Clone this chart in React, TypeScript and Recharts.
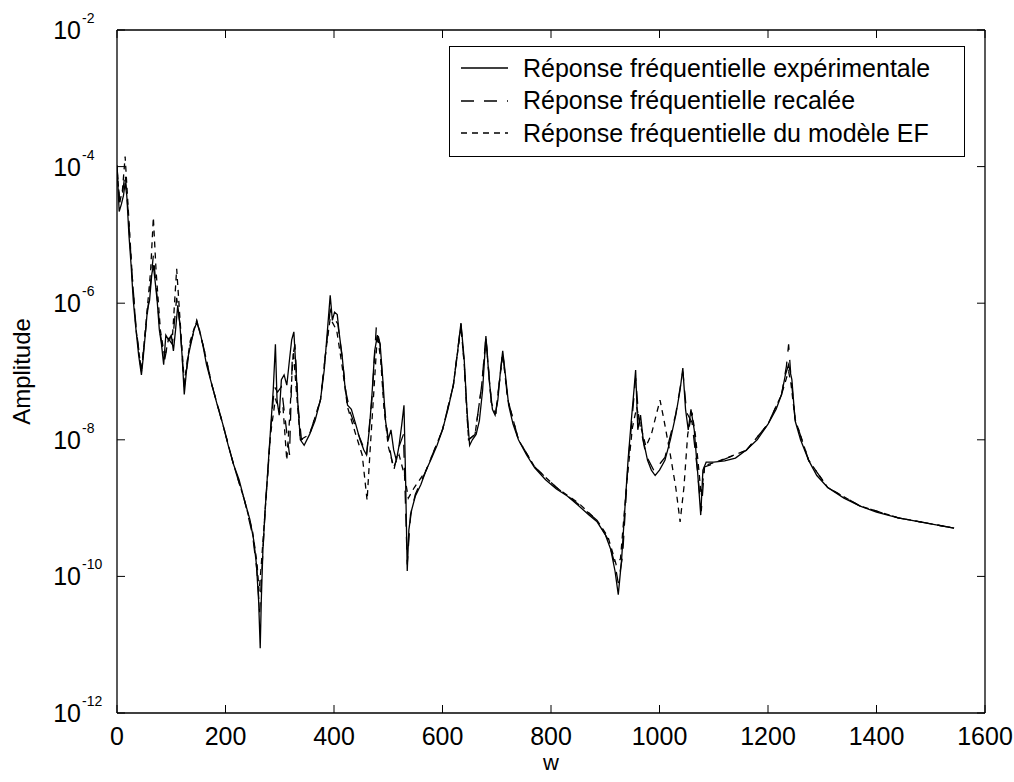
import React from 'react'
import { LineChart, Line, XAxis, YAxis, Legend, ReferenceLine } from 'recharts'

const wExp = [0, 4, 8, 12, 15, 18, 22, 26, 30, 35, 40, 45, 48, 52, 56, 60, 64, 67, 70, 74, 78, 82, 86, 90, 95, 100, 104, 108, 112, 116, 120, 124, 130, 136, 142, 147, 152, 158, 165, 175, 185, 195, 205, 215, 225, 235, 245, 252, 257, 261, 264, 266, 269, 273, 278, 283, 288, 292, 295, 299, 303, 308, 313, 318, 322, 326, 330, 334, 338, 345, 355, 365, 375, 382, 388, 393, 397, 401, 406, 410, 415, 420, 425, 432, 440, 448, 455, 460, 465, 470, 475, 480, 485, 490, 495, 500, 505, 510, 515, 520, 525, 529, 532, 535, 538, 543, 550, 560, 570, 580, 590, 600, 610, 620, 628, 634, 640, 645, 650, 655, 662, 668, 674, 680, 686, 692, 697, 702, 707, 711, 716, 722, 730, 740, 755, 770, 790, 810, 830, 850, 870, 885, 900, 910, 918, 924, 930, 936, 942, 948, 953, 956, 960, 965, 970, 978, 985, 992, 1000, 1010, 1020, 1030, 1038, 1043, 1048, 1053, 1058, 1064, 1070, 1076, 1080, 1086, 1100, 1120, 1140, 1160, 1180, 1200, 1215, 1225, 1232, 1238, 1244, 1250, 1260, 1275, 1290, 1310, 1340, 1370, 1400, 1440, 1480, 1520, 1543]
const ampExp = [1.05e-4, 2.2e-5, 2.8e-5, 3.8e-5, 5.8e-5, 3.8e-5, 1.0e-5, 3.6e-6, 1.1e-6, 4.1e-7, 1.7e-7, 8.9e-8, 1.5e-7, 3.4e-7, 7.9e-7, 1.1e-6, 2.6e-6, 3.6e-6, 2.2e-6, 1.1e-6, 4.1e-7, 2.5e-7, 1.26e-7, 3.4e-7, 2.9e-7, 3.4e-7, 2.0e-7, 4.1e-7, 9.3e-7, 4.8e-7, 1.7e-7, 4.6e-8, 1.5e-7, 2.5e-7, 4.1e-7, 5.2e-7, 4.1e-7, 2.5e-7, 1.26e-7, 6.3e-8, 3.2e-8, 1.7e-8, 8.3e-9, 4.3e-9, 2.6e-9, 1.3e-9, 6.8e-10, 3.4e-10, 1.5e-10, 4.5e-11, 8.9e-12, 4.5e-11, 2.5e-10, 9.3e-10, 3.6e-9, 1.4e-8, 5.4e-8, 2.5e-7, 3.8e-8, 2.3e-8, 7.6e-8, 8.9e-8, 6.3e-8, 1.5e-7, 2.9e-7, 3.8e-7, 1.05e-7, 2.8e-8, 1.0e-8, 8.3e-9, 1.2e-8, 1.9e-8, 3.8e-8, 1.05e-7, 4.1e-7, 1.3e-6, 5.6e-7, 7.4e-7, 6.8e-7, 3.4e-7, 1.7e-7, 6.3e-8, 3.2e-8, 2.8e-8, 1.7e-8, 1.0e-8, 7.1e-9, 6.0e-9, 1.4e-8, 4.6e-8, 2.0e-7, 3.4e-7, 2.5e-7, 7.6e-8, 1.9e-8, 1.0e-8, 1.4e-8, 7.1e-9, 5.0e-9, 8.3e-9, 1.7e-8, 3.2e-8, 2.6e-9, 1.2e-10, 4.8e-10, 9.3e-10, 1.5e-9, 2.2e-9, 3.6e-9, 5.4e-9, 8.3e-9, 1.4e-8, 2.8e-8, 6.3e-8, 2.0e-7, 5.1e-7, 1.5e-7, 2.8e-8, 8.3e-9, 1.0e-8, 1.2e-8, 1.9e-8, 5.4e-8, 3.3e-7, 7.6e-8, 2.8e-8, 2.3e-8, 3.8e-8, 1.05e-7, 2.0e-7, 8.9e-8, 3.2e-8, 1.7e-8, 1.0e-8, 6.0e-9, 3.9e-9, 2.6e-9, 1.9e-9, 1.5e-9, 1.1e-9, 7.9e-10, 6.3e-10, 4.1e-10, 2.5e-10, 1.2e-10, 5.4e-11, 1.7e-10, 9.3e-10, 5.0e-9, 1.9e-8, 5.4e-8, 1.05e-7, 1.4e-8, 2.3e-8, 1.0e-8, 5.0e-9, 3.6e-9, 3.0e-9, 3.6e-9, 5.0e-9, 1.0e-8, 2.3e-8, 5.4e-8, 1.12e-7, 2.8e-8, 1.4e-8, 2.8e-8, 1.4e-8, 3.6e-9, 7.9e-10, 3.6e-9, 4.7e-9, 4.7e-9, 4.9e-9, 5.4e-9, 7.1e-9, 1.0e-8, 1.7e-8, 2.8e-8, 4.6e-8, 8.9e-8, 1.26e-7, 7.6e-8, 1.9e-8, 1.0e-8, 5.0e-9, 3.0e-9, 2.0e-9, 1.4e-9, 1.07e-9, 8.7e-10, 7.2e-10, 6.3e-10, 5.5e-10, 5.1e-10]

// updated model response
const wRec = [0, 5, 10, 15, 20, 28, 35, 45, 55, 62, 67, 72, 80, 88, 95, 102, 110, 116, 124, 135, 147, 160, 175, 195, 215, 235, 250, 258, 263, 267, 273, 283, 290, 296, 303, 310, 318, 323, 328, 334, 340, 355, 375, 385, 393, 400, 407, 415, 422, 430, 445, 460, 470, 478, 485, 492, 500, 510, 520, 528, 535, 541, 550, 570, 600, 620, 634, 640, 648, 660, 672, 680, 690, 698, 711, 720, 740, 770, 810, 850, 885, 905, 918, 924, 932, 942, 956, 962, 975, 990, 1010, 1030, 1043, 1050, 1060, 1070, 1077, 1083, 1100, 1160, 1200, 1225, 1234, 1238, 1242, 1250, 1275, 1310, 1370, 1440, 1543]
const ampRec = [1.0e-4, 3.0e-5, 4.0e-5, 8.0e-5, 2.5e-5, 2.5e-6, 4.5e-7, 1.0e-7, 6.0e-7, 2.0e-6, 5.0e-6, 1.8e-6, 3.5e-7, 1.5e-7, 3.0e-7, 2.5e-7, 1.2e-6, 5.0e-7, 6.0e-8, 2.5e-7, 5.5e-7, 2.2e-7, 6.3e-8, 1.7e-8, 4.3e-9, 1.3e-9, 4.0e-10, 1.2e-10, 3.0e-11, 1.2e-10, 9.0e-10, 1.3e-8, 6.0e-8, 5.0e-8, 6.0e-8, 2.0e-8, 6.0e-9, 1.5e-7, 2.5e-7, 3.0e-8, 1.0e-8, 1.2e-8, 3.8e-8, 2.0e-7, 8.0e-7, 6.0e-7, 5.0e-7, 1.6e-7, 5.0e-8, 2.5e-8, 1.2e-8, 6.0e-9, 4.0e-8, 4.5e-7, 2.5e-7, 3.5e-8, 1.0e-8, 3.5e-9, 8.0e-9, 1.2e-8, 1.5e-10, 8.0e-10, 1.6e-9, 3.6e-9, 1.4e-8, 6.3e-8, 5.0e-7, 1.3e-7, 1.0e-8, 1.2e-8, 6.0e-8, 3.2e-7, 3.5e-8, 2.4e-8, 1.9e-7, 4.0e-8, 1.0e-8, 4.0e-9, 2.0e-9, 1.15e-9, 6.6e-10, 3.5e-10, 1.5e-10, 8.0e-11, 2.0e-10, 4.5e-9, 8.0e-8, 2.0e-8, 6.0e-9, 3.5e-9, 5.5e-9, 2.4e-8, 1.0e-7, 2.5e-8, 1.8e-8, 3.5e-9, 9.0e-10, 4.0e-9, 4.5e-9, 7.0e-9, 1.7e-8, 4.6e-8, 1.2e-7, 2.5e-7, 9.0e-8, 2.0e-8, 5.0e-9, 2.0e-9, 1.07e-9, 7.2e-10, 5.1e-10]

// finite element model response
const wEF = [0, 5, 10, 15, 20, 28, 35, 45, 55, 62, 67, 72, 80, 88, 95, 102, 110, 116, 124, 135, 147, 160, 175, 195, 215, 235, 250, 258, 262, 266, 273, 283, 292, 300, 306, 313, 318, 325, 330, 338, 355, 375, 385, 393, 405, 415, 425, 440, 452, 461, 467, 474, 480, 486, 492, 500, 510, 520, 530, 537, 548, 570, 600, 620, 634, 640, 648, 660, 672, 680, 690, 698, 711, 720, 740, 770, 810, 850, 885, 905, 920, 928, 940, 950, 958, 966, 975, 985, 995, 1001, 1008, 1020, 1030, 1038, 1045, 1052, 1060, 1066, 1072, 1077, 1083, 1100, 1160, 1200, 1225, 1234, 1238, 1242, 1250, 1275, 1310, 1370, 1440, 1543]
const ampEF = [9.0e-5, 3.0e-5, 4.5e-5, 1.4e-4, 3.0e-5, 2.5e-6, 4.2e-7, 1.0e-7, 7.0e-7, 3.0e-6, 1.8e-5, 3.0e-6, 4.0e-7, 1.6e-7, 3.0e-7, 3.0e-7, 3.2e-6, 6.0e-7, 7.0e-8, 2.8e-7, 5.6e-7, 2.2e-7, 6.3e-8, 1.7e-8, 4.3e-9, 1.3e-9, 4.5e-10, 1.6e-10, 6.0e-11, 1.5e-10, 9.0e-10, 1.2e-8, 4.0e-8, 2.5e-8, 3.0e-8, 5.0e-9, 2.0e-8, 2.0e-7, 6.0e-8, 1.0e-8, 1.2e-8, 3.8e-8, 2.0e-7, 6.0e-7, 4.0e-7, 1.2e-7, 3.0e-8, 1.2e-8, 6.0e-9, 1.3e-9, 8.0e-9, 6.0e-8, 3.5e-7, 1.5e-7, 3.0e-8, 8.0e-9, 4.0e-9, 6.0e-9, 3.0e-9, 1.4e-9, 2.0e-9, 3.6e-9, 1.4e-8, 6.3e-8, 4.5e-7, 1.3e-7, 1.0e-8, 1.2e-8, 6.0e-8, 3.0e-7, 3.5e-8, 2.4e-8, 1.8e-7, 4.0e-8, 1.0e-8, 4.0e-9, 2.0e-9, 1.2e-9, 6.6e-10, 3.8e-10, 1.5e-10, 1.8e-10, 2.5e-9, 1.5e-8, 3.0e-8, 1.5e-8, 8.0e-9, 1.2e-8, 2.5e-8, 3.8e-8, 2.0e-8, 6.0e-9, 2.0e-9, 6.3e-10, 2.0e-9, 1.2e-8, 2.5e-8, 1.2e-8, 4.0e-9, 1.5e-9, 4.2e-9, 4.6e-9, 7.0e-9, 1.7e-8, 4.6e-8, 8.0e-8, 1.0e-7, 7.0e-8, 2.0e-8, 5.0e-9, 2.0e-9, 1.07e-9, 7.2e-10, 5.1e-10]

const xTicks = [0, 200, 400, 600, 800, 1000, 1200, 1400, 1600]
const yTicks = [1e-12, 1e-10, 1e-8, 1e-6, 1e-4, 1e-2]

const labels = [
  'Réponse fréquentielle expérimentale',
  'Réponse fréquentielle recalée',
  'Réponse fréquentielle du modèle EF',
]

const expData = wExp.map((w, i) => ({ w, a: ampExp[i] }))
const recData = wRec.map((w, i) => ({ w, a: ampRec[i] }))
const efData = wEF.map((w, i) => ({ w, a: ampEF[i] }))

const FONT = '"Liberation Sans", Arial, sans-serif'
const PLOT_W = 868
const PLOT_H = 683
const TICK = 8

const XTick = (props: any) => {
  const { x, y, payload } = props
  return (
    <g>
      <line x1={x} y1={y} x2={x} y2={y - TICK} stroke="#000" />
      <line x1={x} y1={y - PLOT_H} x2={x} y2={y - PLOT_H + TICK} stroke="#000" />
      <text x={x} y={y + 32} textAnchor="middle" fontSize={25} fontFamily={FONT} fill="#000">
        {payload.value}
      </text>
    </g>
  )
}

const YTick = (props: any) => {
  const { x, y, payload } = props
  const exp = Math.round(Math.log10(payload.value))
  return (
    <g>
      <line x1={x} y1={y} x2={x + TICK} y2={y} stroke="#000" />
      <line x1={x + PLOT_W} y1={y} x2={x + PLOT_W - TICK} y2={y} stroke="#000" />
      <text x={x - 36} y={y + 9} textAnchor="end" fontSize={25} fontFamily={FONT} fill="#000">10</text>
      <text x={x - 35} y={y - 7} textAnchor="start" fontSize={14} fontFamily={FONT} fill="#000">{exp}</text>
    </g>
  )
}

const dashes = [undefined, '13 10', '6 5']

const LegendBox = () => (
  <div
    style={{
      width: 514,
      height: 104,
      border: '1.5px solid #000',
      background: '#fff',
      fontFamily: FONT,
      fontSize: 25,
      paddingTop: 5,
      boxSizing: 'content-box',
    }}
  >
    {labels.map((t, i) => (
      <div key={t} style={{ display: 'flex', alignItems: 'center', height: 32.5, whiteSpace: 'nowrap' }}>
        <svg width={73} height={32}>
          <line x1={11} y1={16} x2={58} y2={16} stroke="#000" strokeWidth={1.3} strokeDasharray={dashes[i]} />
        </svg>
        <span>{t}</span>
      </div>
    ))}
  </div>
)

export default function App() {
  return (
    <div style={{ position: 'absolute', left: 0, top: 0, background: '#fff' }}>
      <LineChart width={1014} height={782} margin={{ top: 30, right: 29, bottom: 9, left: 17 }}>
        <XAxis
          dataKey="w"
          type="number"
          domain={[0, 1600]}
          ticks={xTicks}
          height={60}
          tickSize={0}
          tickMargin={0}
          tick={<XTick />}
          axisLine={{ stroke: '#000', strokeWidth: 1.3 }}
          allowDataOverflow
          label={{ value: 'w', position: 'insideBottom', offset: 3, fontSize: 22, fontFamily: FONT, fill: '#000' }}
        />
        <YAxis
          type="number"
          scale="log"
          domain={[1e-12, 1e-2]}
          ticks={yTicks}
          width={100}
          tickSize={0}
          tickMargin={0}
          tick={<YTick />}
          axisLine={{ stroke: '#000', strokeWidth: 1.3 }}
          allowDataOverflow
          label={{ value: 'Amplitude', angle: -90, position: 'insideLeft', offset: 4, fontSize: 24, fontFamily: FONT, fill: '#000', style: { textAnchor: 'middle' } }}
        />
        <ReferenceLine y={1e-2} stroke="#000" strokeWidth={1.3} />
        <ReferenceLine x={1600} stroke="#000" strokeWidth={1.3} />
        <Line data={efData} dataKey="a" type="linear" dot={false} stroke="#000" strokeWidth={1.3} strokeDasharray="6 5" isAnimationActive={false} />
        <Line data={recData} dataKey="a" type="linear" dot={false} stroke="#000" strokeWidth={1.3} strokeDasharray="13 10" isAnimationActive={false} />
        <Line data={expData} dataKey="a" type="linear" dot={false} stroke="#000" strokeWidth={1.3} isAnimationActive={false} />
        <Legend
          layout="horizontal"
          verticalAlign="middle"
          align="center"
          wrapperStyle={{ top: 46, left: 449, width: 'auto' }}
          content={() => <LegendBox />}
        />
      </LineChart>
    </div>
  )
}
